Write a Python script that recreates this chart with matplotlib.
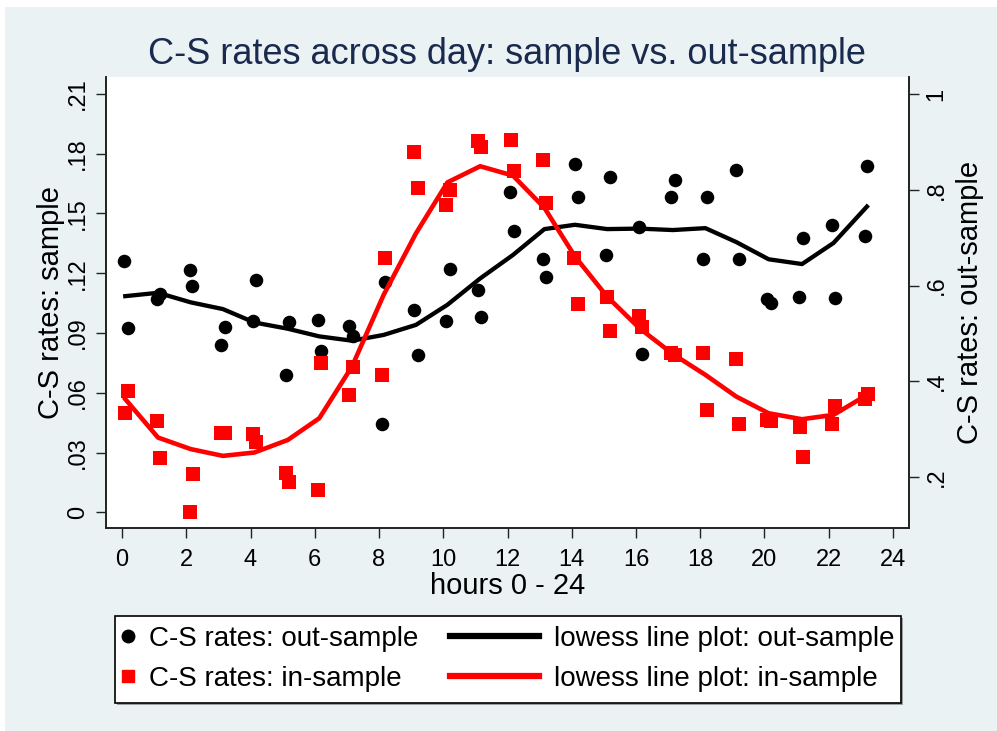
import matplotlib
matplotlib.use("Agg")
import matplotlib.pyplot as plt
from matplotlib.lines import Line2D
from matplotlib.patches import Rectangle

# hours and C-S rates, out-sample (black dots, right axis)
hours_out = [0.07, 0.19, 1.10, 1.18, 2.10, 2.19, 3.07, 3.19, 4.09, 4.17, 5.09, 5.19,
             6.10, 6.20, 7.08, 7.20, 8.09, 8.19, 9.10, 9.20, 10.09, 10.20, 11.09, 11.19,
             12.09, 12.20, 13.10, 13.19, 14.09, 14.20, 15.08, 15.18, 16.10, 16.20, 17.10, 17.20,
             18.10, 18.20, 19.10, 19.20, 20.08, 20.21, 21.09, 21.19, 22.10, 22.20, 23.12, 23.20]
cs_out = [0.652, 0.512, 0.572, 0.583, 0.632, 0.599, 0.476, 0.514, 0.526, 0.612, 0.414, 0.523,
          0.528, 0.464, 0.515, 0.494, 0.311, 0.607, 0.550, 0.455, 0.527, 0.635, 0.590, 0.535,
          0.796, 0.714, 0.655, 0.618, 0.854, 0.784, 0.663, 0.827, 0.722, 0.457, 0.785, 0.821,
          0.656, 0.786, 0.842, 0.655, 0.572, 0.563, 0.576, 0.699, 0.726, 0.575, 0.703, 0.850]

# hours and C-S rates, in-sample (red squares, left axis)
hours_in = [0.08, 0.19, 1.10, 1.19, 2.10, 2.20, 3.08, 3.20, 4.09, 4.18, 5.09, 5.19,
            6.10, 6.20, 7.08, 7.20, 8.09, 8.19, 9.10, 9.20, 10.10, 10.20, 11.09, 11.19,
            12.10, 12.20, 13.10, 13.20, 14.08, 14.19, 15.09, 15.19, 16.10, 16.20, 17.10, 17.20,
            18.10, 18.20, 19.10, 19.20, 20.08, 20.20, 21.10, 21.20, 22.10, 22.20, 23.12, 23.22]
cs_in = [0.0499, 0.0611, 0.0459, 0.0274, 0.0, 0.0192, 0.0397, 0.0397, 0.0392, 0.0352, 0.0196, 0.0151,
         0.0114, 0.0749, 0.0589, 0.0729, 0.069, 0.1276, 0.1806, 0.163, 0.1543, 0.162, 0.1866, 0.1832,
         0.1871, 0.1715, 0.177, 0.1553, 0.1276, 0.1045, 0.1082, 0.0908, 0.0986, 0.0928, 0.0802, 0.0787,
         0.080, 0.0511, 0.077, 0.0445, 0.0464, 0.046, 0.0427, 0.0279, 0.0445, 0.0531, 0.0568, 0.0594]

# lowess smooth lines
lowess_hours = [0.1, 1.12, 2.14, 3.14, 4.12, 5.16, 6.14, 7.16, 8.14, 9.15, 10.13, 11.15,
                12.17, 13.15, 14.1, 15.1, 16.1, 17.15, 18.16, 19.12, 20.13, 21.17, 22.15, 23.19]
lowess_out = [0.578, 0.585, 0.565, 0.551, 0.523, 0.510, 0.494, 0.485, 0.497, 0.518, 0.560, 0.615,
              0.664, 0.718, 0.727, 0.718, 0.719, 0.716, 0.720, 0.691, 0.655, 0.645, 0.689, 0.765]
lowess_in = [0.0568, 0.0375, 0.0317, 0.0283, 0.030, 0.0363, 0.0472, 0.0732, 0.109, 0.140, 0.1656, 0.1737,
             0.169, 0.1528, 0.1284, 0.1083, 0.0925, 0.0794, 0.069, 0.0581, 0.0497, 0.0467, 0.0489, 0.0589]

# tick labels (Stata style, no leading zero)
x_ticks = list(range(0, 25, 2))
left_ticks = [0, 0.03, 0.06, 0.09, 0.12, 0.15, 0.18, 0.21]
left_labels = ['0', '.03', '.06', '.09', '.12', '.15', '.18', '.21']
right_ticks = [0.2, 0.4, 0.6, 0.8, 1.0]
right_labels = ['.2', '.4', '.6', '.8', '1']

bg = '#EAF2F3'
navy = '#1A2A4E'
plt.rcParams['font.family'] = ['Liberation Sans', 'DejaVu Sans']

fig = plt.figure(figsize=(9.97, 7.31), dpi=100)
fig.patch.set_facecolor('white')
fig.patches.append(Rectangle((5 / 997, 0), 1, 1 - 7 / 731, transform=fig.transFigure,
                             facecolor=bg, edgecolor='none', zorder=-10))

ax = fig.add_axes([106 / 997, 1 - 528 / 731, 803 / 997, 451 / 731])
ax2 = ax.twinx()
# left axis drawn on top so the red series sits above the black one
ax.set_zorder(2)
ax2.set_zorder(1)
ax.patch.set_visible(False)
ax2.patch.set_visible(True)
ax2.patch.set_facecolor('white')

ax.set_xlim(-0.5, 24.5)
ax.set_ylim(-0.0079, 0.2185)
ax2.set_ylim(0.094, 1.0355)

# gridlines only at the inner left ticks
ax.set_yticks(left_ticks[1:-1], minor=True)
ax.yaxis.grid(True, which='minor', color=bg, lw=1.6)
ax.tick_params(axis='y', which='minor', length=0)

ax2.scatter(hours_out, cs_out, s=95, marker='o', color='black', lw=0, zorder=2)
ax2.plot(lowess_hours, lowess_out, color='black', lw=3.1, zorder=3)
ax.scatter(hours_in, cs_in, s=90, marker='s', color='#FF0000', lw=0, zorder=2)
ax.plot(lowess_hours, lowess_in, color='#FF0000', lw=3.3, zorder=3)

ax.set_xticks(x_ticks)
ax.set_yticks(left_ticks)
ax.set_yticklabels(left_labels, rotation=90, va='center')
ax2.set_yticks(right_ticks)
ax2.set_yticklabels(right_labels, rotation=90, va='center')

for a in (ax, ax2):
    a.spines['top'].set_visible(False)
    for side in ('left', 'right', 'bottom'):
        a.spines[side].set_linewidth(1.2)
        a.spines[side].set_color('#222222')
    a.tick_params(axis='both', which='major', length=7, width=1, color='#222222',
                  labelsize=17, pad=5)
ax.tick_params(axis='x', pad=8)

ax.set_xlabel('hours 0 - 24', fontsize=21, labelpad=1)
ax.set_ylabel('C-S rates: sample', fontsize=21, labelpad=2)
ax2.set_ylabel('C-S rates: out-sample', fontsize=21, labelpad=6)
fig.text(507 / 997, 1 - 55 / 731, 'C-S rates across day: sample vs. out-sample',
         fontsize=26, color=navy, ha='center', va='center')

# legend box built from two frameless legends
fig.patches.append(Rectangle((117 / 997, 1 - 705 / 731), 786 / 997, 87 / 731,
                             transform=fig.transFigure, facecolor='#9A9FA0',
                             edgecolor='none', zorder=0))
fig.patches.append(Rectangle((115 / 997, 1 - 703 / 731), 786 / 997, 87 / 731,
                             transform=fig.transFigure, facecolor='white',
                             edgecolor='black', lw=1.2, zorder=1))
h_dots = [Line2D([], [], ls='none', marker='o', color='black', markersize=9),
          Line2D([], [], ls='none', marker='s', color='#FF0000', markersize=9)]
h_lines = [Line2D([], [], color='black', lw=4.5),
           Line2D([], [], color='#FF0000', lw=4.5)]
leg1 = fig.legend(h_dots, ['C-S rates: out-sample', 'C-S rates: in-sample'],
                  loc='upper left', bbox_to_anchor=(118 / 997, 1 - 626 / 731),
                  frameon=False, fontsize=20, handlelength=0.7, handletextpad=0.4,
                  labelspacing=0.5, borderaxespad=0, borderpad=0)
leg2 = fig.legend(h_lines, ['lowess line plot: out-sample', 'lowess line plot: in-sample'],
                  loc='upper left', bbox_to_anchor=(450 / 997, 1 - 626 / 731),
                  frameon=False, fontsize=20, handlelength=3.2, handletextpad=0.55,
                  labelspacing=0.5, borderaxespad=0, borderpad=0)

fig.savefig('out.png', dpi=100, facecolor=fig.get_facecolor())
